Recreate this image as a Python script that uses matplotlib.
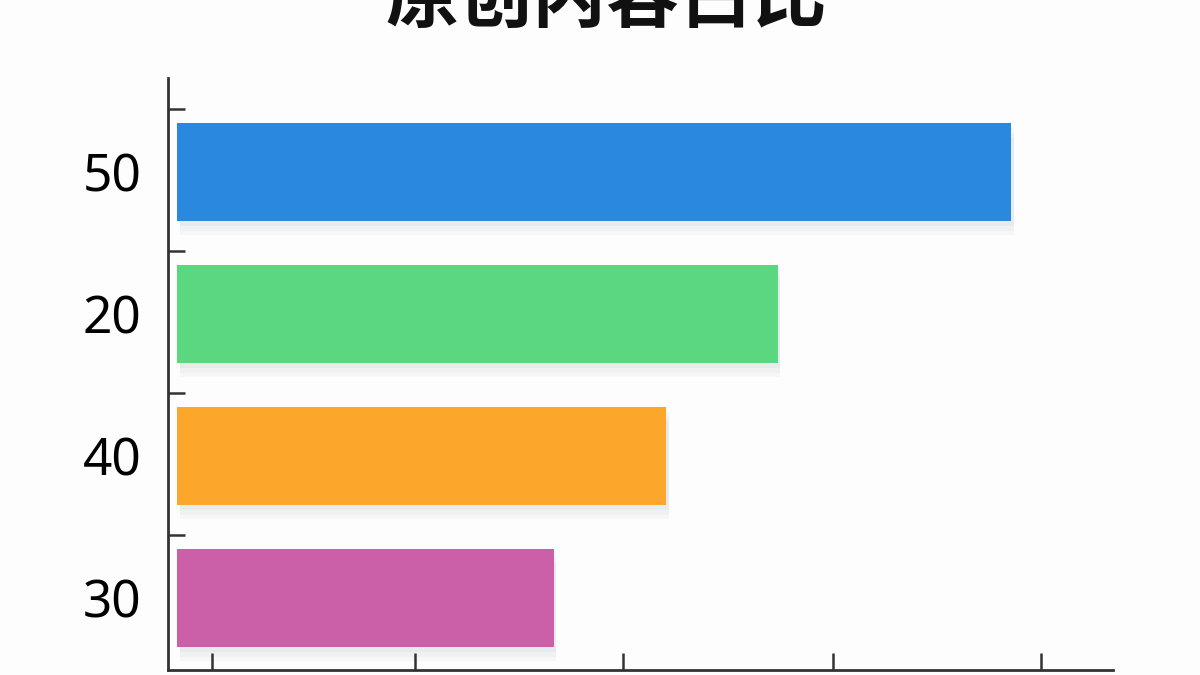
import matplotlib
matplotlib.use("Agg")
import matplotlib.pyplot as plt
from matplotlib.transforms import ScaledTranslation

title = "原创内容占比"
labels = ["50", "20", "40", "30"]
values = [89.2, 64.5, 52.7, 40.8]
colors = ["#2a88de", "#5ad77f", "#fca72b", "#cc60a8"]

bar_start = 1.0
fig = plt.figure(figsize=(12, 6.75), dpi=100)
fig.patch.set_facecolor("#fdfdfd")
ax = fig.add_axes([0.14, 0.0074, 0.7875, 0.8770])
ax.set_facecolor("#fdfdfd")

ypos = list(range(len(labels)))
# soft shadows
for a, off in [(0.05, 0.10), (0.05, 0.07), (0.06, 0.04)]:
    ax.barh([y + off for y in ypos], [v - bar_start for v in values], left=bar_start + 0.3,
            height=0.69, color="#8090a0", alpha=a, linewidth=0, zorder=1)
ax.barh(ypos, [v - bar_start for v in values], left=bar_start, height=0.69,
        color=colors, linewidth=0, zorder=2)

ax.set_xlim(0, 100)
ax.set_ylim(3.51, -0.66)

ax.set_yticks([y - 0.44 for y in ypos])
ax.set_yticklabels([])
ax.set_yticks(ypos, minor=True)
ax.set_yticklabels(labels, minor=True, fontsize=37, family=["Noto Sans", "DejaVu Sans"])
shift = ScaledTranslation(0, 5 / 72, fig.dpi_scale_trans)
for lbl in ax.get_yticklabels(minor=True):
    lbl.set_transform(lbl.get_transform() + shift)
ax.tick_params(axis="y", which="minor", length=0, pad=19)
ax.tick_params(axis="y", which="major", direction="in", length=12, width=1.8, color="#333333")

ax.set_xticks([4.66, 26.1, 48.1, 70.4, 92.4])
ax.set_xticklabels([])
ax.tick_params(axis="x", direction="in", length=12, width=1.8, color="#333333")

for s in ["top", "right"]:
    ax.spines[s].set_visible(False)
for s in ["left", "bottom"]:
    ax.spines[s].set_color("#333333")
    ax.spines[s].set_linewidth(2)

fig.text(0.505, 1.0, title, ha="center", va="center", fontsize=53, fontweight="bold",
         family=["Noto Sans CJK SC", "DejaVu Sans"], color="#111111")

fig.savefig("out.png", dpi=100, facecolor=fig.get_facecolor())
